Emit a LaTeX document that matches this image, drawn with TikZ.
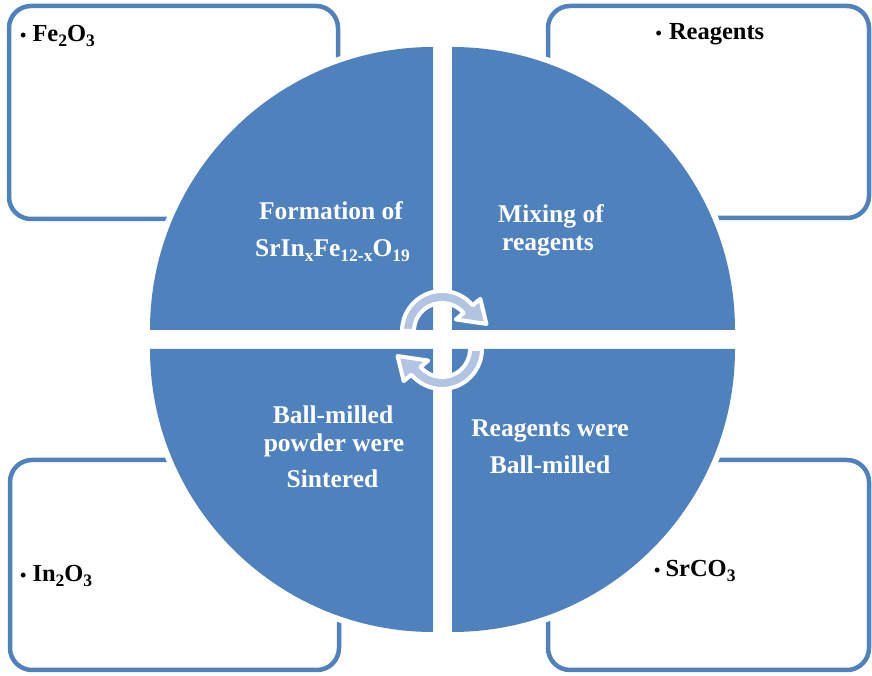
\documentclass[tikz,border=0pt]{standalone}
\usepackage{fontspec}
\setmainfont{Liberation Serif}
\definecolor{accentblue}{RGB}{79,129,189}
\definecolor{arrowtint}{RGB}{178,196,226}
% lowered index for chemical formulas
\newcommand{\chemsub}[1]{\raisebox{-4.5pt}{\fontsize{17.5}{18}\selectfont #1}}
\begin{document}
\begin{tikzpicture}[x=1pt,y=1pt,
  cornerbox/.style={draw=accentblue, line width=4.5pt, rounded corners=22pt,
    inner sep=0pt, outer sep=0pt},
  quadrant/.style={fill=accentblue, preaction={draw=white, line width=12pt}},
  steplabel/.style={text=white, inner sep=0pt, anchor=base,
    font=\bfseries\fontsize{25.5}{28}\selectfont},
  itemlabel/.style={text=black, inner sep=0pt, anchor=base west,
    font=\bfseries\fontsize{24.5}{28}\selectfont},
  turnarrow/.style={fill=arrowtint, draw=white, line width=4pt, line join=round},
  pics/turn/.style={code={
    \path[turnarrow] (180:40) arc[start angle=180, end angle=40, radius=40]
      -- (40:50) -- (9:45) -- (40:18) -- (40:28)
      arc[start angle=40, end angle=180, radius=28] -- cycle;
  }}
]
\useasboundingbox (0,0) rectangle (872,676);

% corner boxes holding the raw materials
\node[cornerbox, minimum width=329pt, minimum height=213pt] (boxFe) at (173.5,563.5) {};
\node[cornerbox, minimum width=321pt, minimum height=212pt] (boxRe) at (708.5,564) {};
\node[cornerbox, minimum width=329pt, minimum height=210pt] (boxIn) at (174.5,111) {};
\node[cornerbox, minimum width=321pt, minimum height=210pt] (boxSr) at (708.5,111) {};

\node[itemlabel] (itemFe) at (20,634.3) {\fontsize{18}{18}\selectfont•\hspace{6pt}\fontsize{24.5}{28}\selectfont Fe\chemsub{2}O\chemsub{3}};
\node[itemlabel] (itemRe) at (655.5,636) {\fontsize{18}{18}\selectfont•\hspace{7pt}\fontsize{24.5}{28}\selectfont Reagents};
\node[itemlabel] (itemIn) at (20,94.3) {\fontsize{18}{18}\selectfont•\hspace{6pt}\fontsize{24.5}{28}\selectfont In\chemsub{2}O\chemsub{3}};
\node[itemlabel] (itemSr) at (654,99.3) {\fontsize{18}{18}\selectfont•\hspace{5pt}\fontsize{24.5}{28}\selectfont SrCO\chemsub{3}};

% the four quarter discs of the cycle
\path[quadrant] (433,346) -- (433,629) arc[start angle=90, end angle=180, radius=283] -- cycle;
\path[quadrant] (452,346) -- (735,346) arc[start angle=0, end angle=90, radius=283] -- cycle;
\path[quadrant] (433,327) -- (150,327) arc[start angle=180, end angle=270, radius=283] -- cycle;
\path[quadrant] (452,327) -- (452,44) arc[start angle=270, end angle=360, radius=283] -- cycle;

% step captions
\node[steplabel] (formA) at (331,456.7) {Formation of};
\node[steplabel] (formB) at (332.5,419.3) {SrIn\chemsub{x}Fe\chemsub{12-x}O\chemsub{19}};
\node[steplabel] (mixA) at (551,453) {Mixing of};
\node[steplabel] (mixB) at (548,425) {reagents};
\node[steplabel] (sinA) at (333,252.7) {Ball-milled};
\node[steplabel] (sinB) at (334,224.3) {powder were};
\node[steplabel] (sinC) at (332.5,188.7) {Sintered};
\node[steplabel] (millA) at (550,239.3) {Reagents were};
\node[steplabel] (millB) at (550,202.7) {Ball-milled};

% circular arrows in the middle
\pic (turnTop) at (442,345) {turn};
\pic[rotate=180] (turnBottom) at (442,327) {turn};
\end{tikzpicture}
\end{document}
